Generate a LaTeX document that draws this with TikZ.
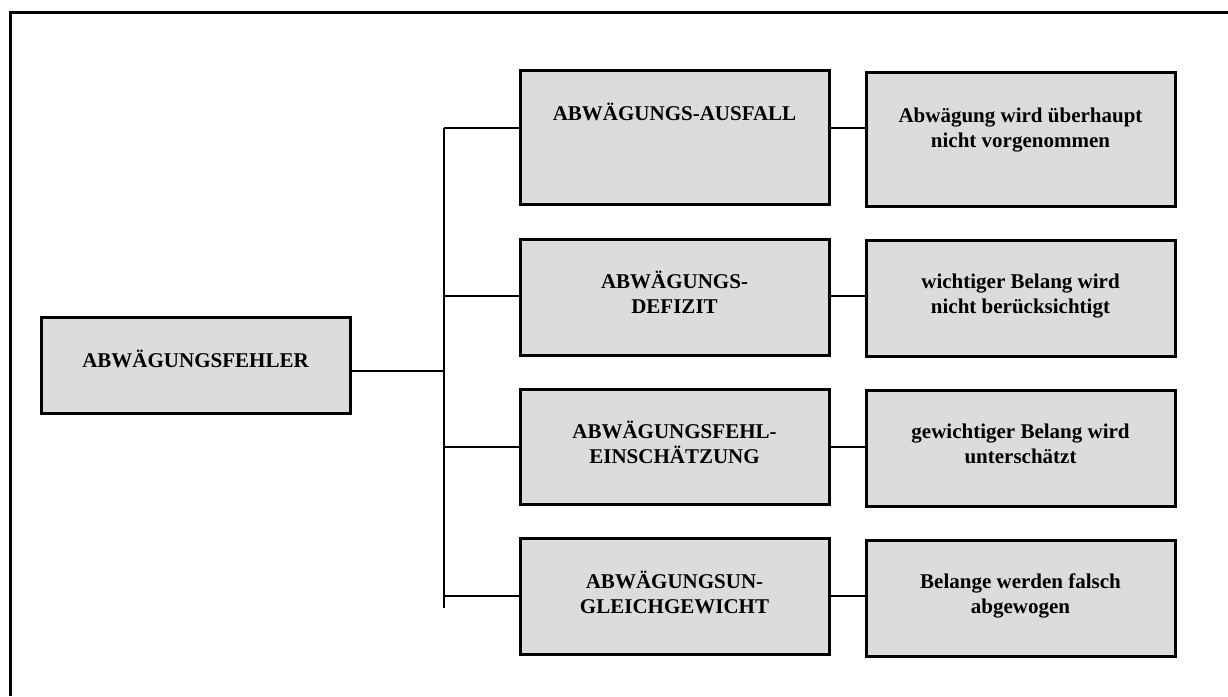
\documentclass[tikz,border=0pt]{standalone}
\usepackage{fontspec}
\setmainfont{Liberation Serif}
\definecolor{boxgray}{RGB}{220,220,220}
\begin{document}
\begin{tikzpicture}[x=1pt,y=-1pt,
  box/.style={draw=black,fill=boxgray,line width=3pt,rectangle,
    minimum width=309pt,inner sep=0pt,anchor=center},
  lbl/.style={align=center,anchor=base,inner sep=0pt,
    font=\bfseries\fontsize{21}{25}\selectfont},
  rlbl/.style={lbl,font=\bfseries\fontsize{21}{24.5}\selectfont},
  link/.style={line width=2.6pt},
  frame/.style={line width=3pt}]
\useasboundingbox (0,0) rectangle (1228,696);

% outer frame (left and top edges)
\draw[frame] (10,696) -- (10,12) -- (1228,12);

% boxes
\node[box,minimum height=96pt] (root) at (195.5,365) {};
\node[box,minimum height=134pt] (m1) at (674.5,137) {};
\node[box,minimum height=116pt] (m2) at (674.5,297) {};
\node[box,minimum height=115pt] (m3) at (674.5,446.5) {};
\node[box,minimum height=116pt] (m4) at (674.5,596) {};
\node[box,minimum height=134pt] (r1) at (1020.5,139) {};
\node[box,minimum height=116pt] (r2) at (1020.5,298) {};
\node[box,minimum height=116pt] (r3) at (1020.5,448) {};
\node[box,minimum height=116pt] (r4) at (1020.5,598) {};

% texts (base anchor sits on the last line)
\node[lbl] (troot) at (195.5,367) {ABWÄGUNGSFEHLER};
\node[lbl] (tm1) at (674.5,120) {ABWÄGUNGS-AUSFALL};
\node[lbl] (tm2) at (674.5,313) {ABWÄGUNGS-\\DEFIZIT};
\node[lbl] (tm3) at (674.5,463) {ABWÄGUNGSFEHL-\\EINSCHÄTZUNG};
\node[lbl] (tm4) at (674.5,613) {ABWÄGUNGSUN-\\GLEICHGEWICHT};
\node[rlbl] (tr1) at (1020.5,147) {Abwägung wird überhaupt\\nicht vorgenommen};
\node[rlbl] (tr2) at (1020.5,313) {wichtiger Belang wird\\nicht berücksichtigt};
\node[rlbl] (tr3) at (1020.5,463) {gewichtiger Belang wird\\unterschätzt};
\node[rlbl] (tr4) at (1020.5,613) {Belange werden falsch\\abgewogen};

% branching bus
\coordinate (bustop) at (444,128);
\coordinate (busbot) at (444,608);
\coordinate (jr) at (444,371);
\coordinate (j1) at (444,128);
\coordinate (j2) at (444,296);
\coordinate (j3) at (444,447);
\coordinate (j4) at (444,596);
\draw[link] (bustop) -- (busbot);
\draw[link] (root.east |- jr) -- (jr);
\foreach \i in {1,2,3,4}{
  \draw[link] (j\i) -- (j\i -| m\i.west);
  \draw[link] (m\i.east |- j\i) -- (j\i -| r\i.west);
}
\end{tikzpicture}
\end{document}
